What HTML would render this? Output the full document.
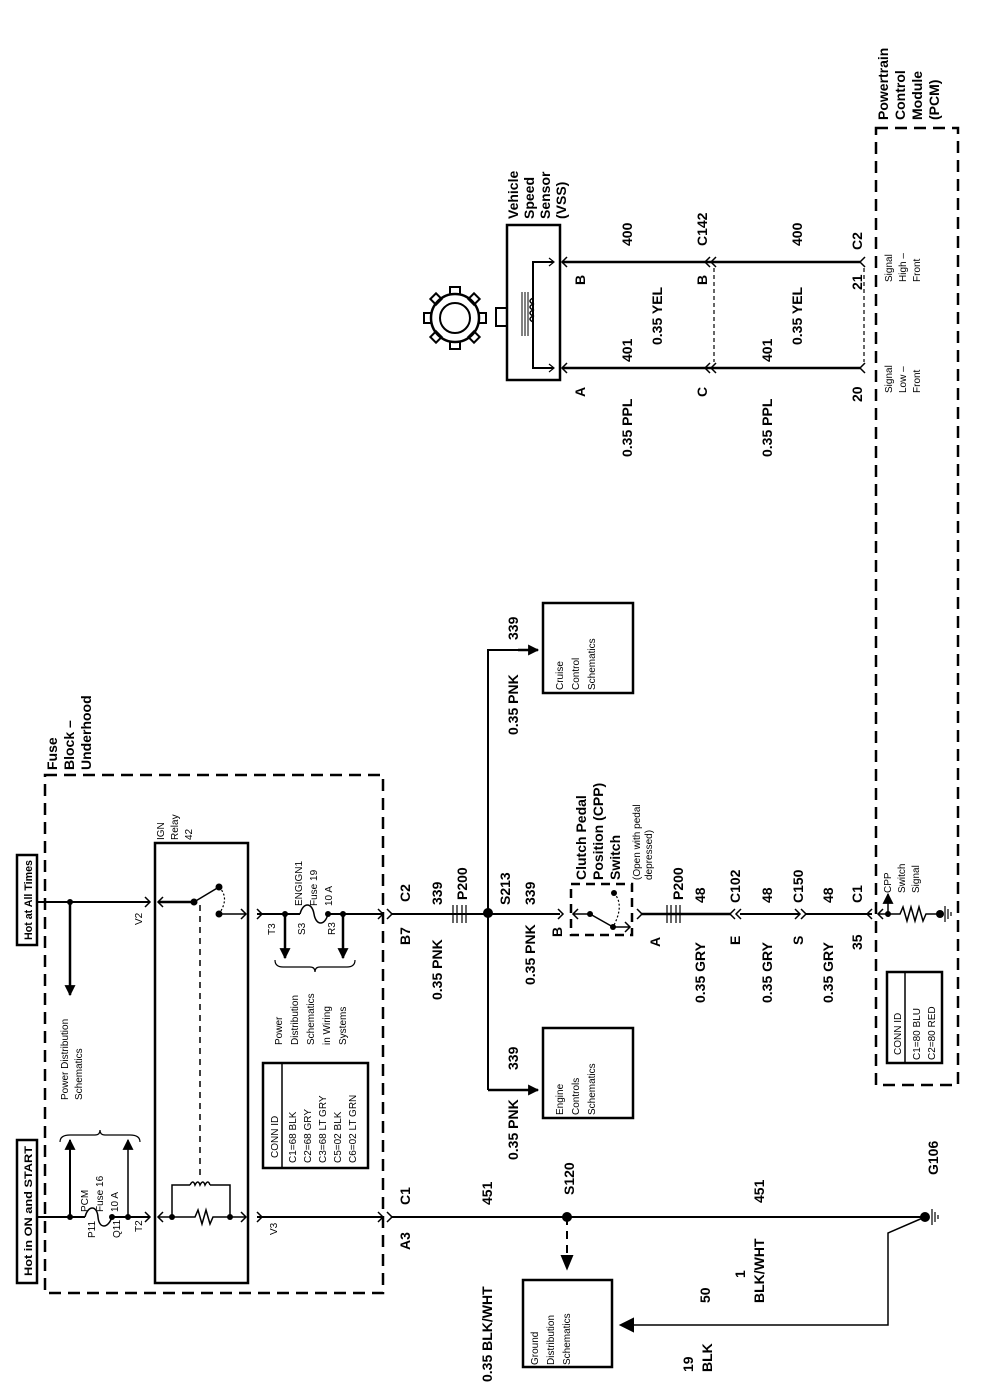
<!DOCTYPE html>
<html><head><meta charset="utf-8"><style>
html,body{margin:0;padding:0;background:#fff}
svg{display:block}
text{font-family:"Liberation Sans",Arial,sans-serif;fill:#000}
.b{font-size:14px;font-weight:bold}
.m{font-size:11px;font-weight:bold}
.s{font-size:10px}
</style></head><body>
<svg width="992" height="1400" viewBox="0 0 992 1400" xmlns="http://www.w3.org/2000/svg">
<defs>
<marker id="ar" viewBox="0 0 10 10" refX="9" refY="5" markerWidth="14" markerHeight="11" markerUnits="userSpaceOnUse" orient="auto"><path d="M0,0 L10,5 L0,10 z" fill="#000"/></marker>
</defs>
<g fill="none" stroke="#000" stroke-width="2">
<rect x="45" y="775" width="338" height="518" stroke-dasharray="12,7" stroke-width="2.5"/>
<rect x="17" y="1140" width="20" height="143" stroke-width="2.5"/>
<rect x="17" y="855" width="20" height="90" stroke-width="2.5"/>
<path d="M37,902 H150"/>
<path d="M70,902 V995" marker-end="url(#ar)" stroke-width="2.5"/>
<path d="M145,897 L150,902 L145,907" stroke-width="1.5"/>
<path d="M37,1217 H85 M112,1217 H150"/>
<path d="M85,1217 C88,1205 97,1205 98,1217 C99,1229 108,1229 112,1217" stroke-width="1.5"/>
<path d="M70,1217 V1140" marker-end="url(#ar)" stroke-width="2"/>
<path d="M128,1217 V1140" marker-end="url(#ar)" stroke-width="1.5"/>
<path d="M145,1212 L150,1217 L145,1222" stroke-width="1.5"/>
<path d="M60,1142 Q60,1135 70,1135 H95 Q100,1135 100,1130 Q100,1135 105,1135 H130 Q140,1135 140,1142" stroke-width="1.2"/>
<rect x="155" y="843" width="93" height="440" stroke-width="2.5"/>
<path d="M158,902 H194" stroke-width="2.5"/>
<path d="M163,897 L158,902 L163,907" stroke-width="1.5"/>
<path d="M194,902 L219,887" stroke-width="1.5"/>
<path d="M219,887 Q230,898 219,914" stroke-dasharray="2,2" stroke-width="1.2"/>
<path d="M219,914 H246" stroke-width="1.5"/>
<path d="M241,909 L246,914 L241,919" stroke-width="1.5"/>
<path d="M200,905 V1180" stroke-dasharray="6,5" stroke-width="1.5"/>
<path d="M158,1217 H195 L198,1210 L202,1224 L206,1210 L210,1224 L213,1217 H246" stroke-width="1.5"/>
<path d="M163,1212 L158,1217 L163,1222 M241,1212 L246,1217 L241,1222" stroke-width="1.5"/>
<path d="M172,1217 V1185 H190 M210,1185 H230 V1217" stroke-width="1.5"/>
<path d="M190,1185 q3,-6 5,0 q3,-6 5,0 q3,-6 5,0 q3,-6 5,0" stroke-width="1.5"/>
<path d="M257,914 H300 M328,914 H383"/>
<path d="M300,914 C303,902 312,902 314,914 C316,926 325,926 328,914" stroke-width="1.5"/>
<path d="M257,909 L262,914 L257,919 M378,909 L383,914 L378,919" stroke-width="1.5"/>
<path d="M285,914 V958" marker-end="url(#ar)" stroke-width="2.5"/>
<path d="M343,914 V958" marker-end="url(#ar)" stroke-width="2.5"/>
<path d="M275,960 Q275,967 283,967 H310 Q315,967 315,972 Q315,967 320,967 H347 Q355,967 355,960" stroke-width="1.2"/>
<path d="M257,1217 H383"/>
<path d="M257,1212 L262,1217 L257,1222 M378,1212 L383,1217 L378,1222" stroke-width="1.5"/>
<rect x="263" y="1063" width="105" height="105" stroke-width="2.5"/>
<path d="M282,1063 V1168" stroke-width="1.5"/>
<path d="M387,909 L392,914 L387,919 M387,1212 L392,1217 L387,1222" stroke-width="1.5"/>
<path d="M392,914 H560"/>
<path d="M453,905 V923 M457,905 V923 M462,905 V923 M466,905 V923" stroke-width="1.2"/>
<path d="M392,1217 H925"/>
<path d="M488,1090 V650 H533" stroke-width="2"/>
<path d="M518,650 H538" marker-end="url(#ar)" stroke-width="2.5"/>
<path d="M488,1090 H538" marker-end="url(#ar)" stroke-width="2.5"/>
<rect x="543" y="603" width="90" height="90" stroke-width="2.5"/>
<rect x="543" y="1028" width="90" height="90" stroke-width="2.5"/>
<path d="M558,909 L563,914 L558,919" stroke-width="1.5"/>
<rect x="571" y="884" width="61" height="51" stroke-dasharray="9,6" stroke-width="2.5"/>
<path d="M573,914 H590 L613,927 M613,927 H630" stroke-width="1.5"/>
<path d="M578,909 L573,914 L578,919 M625,922 L630,927 L625,932" stroke-width="1.5"/>
<path d="M614,893 Q625,905 613,927" stroke-dasharray="2,2" stroke-width="1.2"/>
<path d="M637,909 L642,914 L637,919" stroke-width="1.5"/>
<path d="M642,914 H730" stroke-width="2.5"/>
<path d="M667,905 V923 M671,905 V923 M676,905 V923 M680,905 V923" stroke-width="1.2"/>
<path d="M740,914 H800" stroke-width="2"/>
<path d="M735,909 L730,914 L735,919 M741,909 L736,914 L741,919" stroke-width="1.5"/>
<path d="M795,909 L800,914 L795,919 M801,909 L806,914 L801,919" stroke-width="1.5"/>
<path d="M806,914 H872" stroke-width="2"/>
<path d="M872,909 L867,914 L872,919" stroke-width="1.5"/>
<path d="M876,128 H958 V1085 H876 Z" stroke-dasharray="12,7" stroke-width="2.5"/>
<path d="M883,909 L878,914 L883,919" stroke-width="1.5"/>
<path d="M878,914 H900 L903,907 L907,921 L911,907 L915,921 L919,907 L923,921 L926,914 H940" stroke-width="1.5"/>
<path d="M888,914 V894" marker-end="url(#ar)" stroke-width="1.5"/>
<path d="M945,906 V922 M948,909 V919 M951,912 V916" stroke-width="1.2"/>
<rect x="887" y="972" width="55" height="91" stroke-width="2.5"/>
<path d="M905,972 V1063" stroke-width="1.5"/>
<path d="M567,1217 V1258" stroke-dasharray="8,6" stroke-width="2"/>
<path d="M562,1256 L567,1268 L572,1256 z" fill="#000"/>
<rect x="523" y="1280" width="89" height="87" stroke-width="2.5"/>
<path d="M925,1217 L888,1233 V1325 H630" stroke-width="1.5"/>
<path d="M633,1319 L621,1325 L633,1331 z" fill="#000"/>
<path d="M932,1209 V1225 M935,1212 V1222 M938,1215 V1219" stroke-width="1.2"/>
<rect x="507" y="225" width="53" height="155" stroke-width="2.5"/>
<rect x="496" y="308" width="11" height="18" stroke-width="2"/>
<path d="M553,262 H533 V368 H553" stroke-width="2"/>
<path d="M549,258 L554,262 L549,266 M549,364 L554,368 L549,372" stroke-width="1.2"/>
<path d="M533,298 q-6,3 0,6 q-6,3 0,6 q-6,3 0,6 q-6,3 0,6" stroke-width="1.5"/>
<path d="M522,292 V336 M525,292 V336 M528,292 V336" stroke-width="1"/>
<circle cx="455" cy="318" r="24" stroke-width="2.5"/>
<circle cx="455" cy="318" r="15" stroke-width="2"/>
<g stroke-width="2">
<rect x="450" y="287" width="10" height="7"/><rect x="450" y="342" width="10" height="7"/>
<rect x="424" y="313" width="7" height="10"/><rect x="479" y="313" width="7" height="10"/>
<rect x="432" y="295" width="8" height="8" transform="rotate(45 436 299)"/>
<rect x="470" y="295" width="8" height="8" transform="rotate(45 474 299)"/>
<rect x="432" y="333" width="8" height="8" transform="rotate(45 436 337)"/>
<rect x="470" y="333" width="8" height="8" transform="rotate(45 474 337)"/>
</g>
<path d="M562,262 H860 M562,368 H860" stroke-width="2.5"/>
<path d="M567,257 L562,262 L567,267 M567,363 L562,368 L567,373" stroke-width="1.5"/>
<path d="M710,257 L705,262 L710,267 M716,257 L711,262 L716,267 M710,363 L705,368 L710,373 M716,363 L711,368 L716,373" stroke-width="1.5"/>
<path d="M714,268 V362" stroke-dasharray="4,3" stroke-width="1.2"/>
<path d="M865,257 L860,262 L865,267 M865,363 L860,368 L865,373" stroke-width="1.5"/>
<path d="M864,268 V362" stroke-dasharray="4,3" stroke-width="1.2"/>
</g>
<g fill="#000">
<circle cx="70" cy="902" r="3"/><circle cx="70" cy="1217" r="3"/><circle cx="112" cy="1217" r="3"/><circle cx="128" cy="1217" r="3"/>
<circle cx="194" cy="902" r="3.5"/><circle cx="219" cy="887" r="3.5"/><circle cx="219" cy="914" r="3.5"/>
<circle cx="172" cy="1217" r="3"/><circle cx="230" cy="1217" r="3"/>
<circle cx="285" cy="914" r="3"/><circle cx="328" cy="914" r="3"/><circle cx="343" cy="914" r="3"/>
<circle cx="488" cy="913" r="5"/><circle cx="567" cy="1217" r="5"/><circle cx="925" cy="1217" r="5"/>
<circle cx="590" cy="914" r="3"/><circle cx="613" cy="927" r="3"/><circle cx="614" cy="893" r="3"/>
<circle cx="888" cy="914" r="3"/><circle cx="940" cy="914" r="4"/>
</g>
<g>
<text class="m" transform="translate(32,1276) rotate(-90)" textLength="130" lengthAdjust="spacingAndGlyphs">Hot in ON and START</text>
<text class="m" transform="translate(32,940) rotate(-90)" textLength="80" lengthAdjust="spacingAndGlyphs">Hot at All Times</text>
<text class="b" transform="translate(57,770) rotate(-90)">Fuse<tspan x="0" dy="17">Block –</tspan><tspan x="0" dy="17">Underhood</tspan></text>
<text class="s" transform="translate(68,1100) rotate(-90)">Power Distribution<tspan x="0" dy="14">Schematics</tspan></text>
<text class="s" transform="translate(88,1212) rotate(-90)">PCM<tspan x="0" dy="15">Fuse 16</tspan><tspan x="0" dy="15">10 A</tspan></text>
<text class="s" transform="translate(95,1238) rotate(-90)">P11</text>
<text class="s" transform="translate(120,1238) rotate(-90)">Q11</text>
<text class="s" transform="translate(142,1232) rotate(-90)">T2</text>
<text class="s" transform="translate(142,925) rotate(-90)">V2</text>
<text class="s" transform="translate(164,840) rotate(-90)">IGN<tspan x="0" dy="14">Relay</tspan><tspan x="0" dy="14">42</tspan></text>
<text class="s" transform="translate(302,906) rotate(-90)">ENGIGN1<tspan x="0" dy="15">Fuse 19</tspan><tspan x="0" dy="15">10 A</tspan></text>
<text class="s" transform="translate(275,935) rotate(-90)">T3</text>
<text class="s" transform="translate(305,935) rotate(-90)">S3</text>
<text class="s" transform="translate(335,935) rotate(-90)">R3</text>
<text class="s" transform="translate(282,1045) rotate(-90)">Power<tspan x="0" dy="16">Distribution</tspan><tspan x="0" dy="16">Schematics</tspan><tspan x="0" dy="16">in Wiring</tspan><tspan x="0" dy="16">Systems</tspan></text>
<text class="s" transform="translate(277,1235) rotate(-90)">V3</text>
<text class="s" transform="translate(278,1158) rotate(-90)">CONN ID</text>
<text class="s" transform="translate(296,1163) rotate(-90)">C1=68 BLK<tspan x="0" dy="15">C2=68 GRY</tspan><tspan x="0" dy="15">C3=68 LT GRY</tspan><tspan x="0" dy="15">C5=02 BLK</tspan><tspan x="0" dy="15">C6=02 LT GRN</tspan></text>
<text class="b" transform="translate(410,902) rotate(-90)">C2</text>
<text class="b" transform="translate(410,945) rotate(-90)">B7</text>
<text class="b" transform="translate(410,1205) rotate(-90)">C1</text>
<text class="b" transform="translate(410,1250) rotate(-90)">A3</text>
<text class="b" transform="translate(442,1000) rotate(-90)">0.35 PNK</text>
<text class="b" transform="translate(442,905) rotate(-90)">339</text>
<text class="b" transform="translate(467,900) rotate(-90)">P200</text>
<text class="b" transform="translate(510,905) rotate(-90)">S213</text>
<text class="b" transform="translate(535,905) rotate(-90)">339</text>
<text class="b" transform="translate(535,985) rotate(-90)">0.35 PNK</text>
<text class="b" transform="translate(518,640) rotate(-90)">339</text>
<text class="b" transform="translate(518,735) rotate(-90)">0.35 PNK</text>
<text class="b" transform="translate(518,1070) rotate(-90)">339</text>
<text class="b" transform="translate(518,1160) rotate(-90)">0.35 PNK</text>
<text class="s" transform="translate(563,690) rotate(-90)">Cruise<tspan x="0" dy="16">Control</tspan><tspan x="0" dy="16">Schematics</tspan></text>
<text class="s" transform="translate(563,1115) rotate(-90)">Engine<tspan x="0" dy="16">Controls</tspan><tspan x="0" dy="16">Schematics</tspan></text>
<text class="b" transform="translate(562,937) rotate(-90)">B</text>
<text class="b" transform="translate(586,880) rotate(-90)">Clutch Pedal<tspan x="0" dy="17">Position (CPP)</tspan><tspan x="0" dy="17">Switch</tspan></text>
<text class="s" transform="translate(640,880) rotate(-90)">(Open with pedal<tspan x="0" dy="12">depressed)</tspan></text>
<text class="b" transform="translate(660,947) rotate(-90)">A</text>
<text class="b" transform="translate(683,900) rotate(-90)">P200</text>
<text class="b" transform="translate(705,903) rotate(-90)">48</text>
<text class="b" transform="translate(705,1003) rotate(-90)">0.35 GRY</text>
<text class="b" transform="translate(740,903) rotate(-90)">C102</text>
<text class="b" transform="translate(740,945) rotate(-90)">E</text>
<text class="b" transform="translate(772,903) rotate(-90)">48</text>
<text class="b" transform="translate(772,1003) rotate(-90)">0.35 GRY</text>
<text class="b" transform="translate(803,903) rotate(-90)">C150</text>
<text class="b" transform="translate(803,945) rotate(-90)">S</text>
<text class="b" transform="translate(833,903) rotate(-90)">48</text>
<text class="b" transform="translate(833,1003) rotate(-90)">0.35 GRY</text>
<text class="b" transform="translate(862,903) rotate(-90)">C1</text>
<text class="b" transform="translate(862,950) rotate(-90)">35</text>
<text class="s" transform="translate(891,893) rotate(-90)">CPP<tspan x="0" dy="14">Switch</tspan><tspan x="0" dy="14">Signal</tspan></text>
<text class="s" transform="translate(901,1055) rotate(-90)">CONN ID</text>
<text class="s" transform="translate(920,1060) rotate(-90)">C1=80 BLU<tspan x="0" dy="15">C2=80 RED</tspan></text>
<text class="b" transform="translate(888,120) rotate(-90)">Powertrain<tspan x="0" dy="17">Control</tspan><tspan x="0" dy="17">Module</tspan><tspan x="0" dy="17">(PCM)</tspan></text>
<text class="s" transform="translate(892,282) rotate(-90)">Signal<tspan x="0" dy="14">High –</tspan><tspan x="0" dy="14">Front</tspan></text>
<text class="s" transform="translate(892,393) rotate(-90)">Signal<tspan x="0" dy="14">Low –</tspan><tspan x="0" dy="14">Front</tspan></text>
<text class="b" transform="translate(518,219) rotate(-90)">Vehicle<tspan x="0" dy="16">Speed</tspan><tspan x="0" dy="16">Sensor</tspan><tspan x="0" dy="16">(VSS)</tspan></text>
<text class="b" transform="translate(585,285) rotate(-90)">B</text>
<text class="b" transform="translate(585,397) rotate(-90)">A</text>
<text class="b" transform="translate(632,246) rotate(-90)">400</text>
<text class="b" transform="translate(632,362) rotate(-90)">401</text>
<text class="b" transform="translate(632,457) rotate(-90)">0.35 PPL</text>
<text class="b" transform="translate(662,345) rotate(-90)">0.35 YEL</text>
<text class="b" transform="translate(707,246) rotate(-90)">C142</text>
<text class="b" transform="translate(707,285) rotate(-90)">B</text>
<text class="b" transform="translate(707,397) rotate(-90)">C</text>
<text class="b" transform="translate(772,362) rotate(-90)">401</text>
<text class="b" transform="translate(772,457) rotate(-90)">0.35 PPL</text>
<text class="b" transform="translate(802,246) rotate(-90)">400</text>
<text class="b" transform="translate(802,345) rotate(-90)">0.35 YEL</text>
<text class="b" transform="translate(862,250) rotate(-90)">C2</text>
<text class="b" transform="translate(862,290) rotate(-90)">21</text>
<text class="b" transform="translate(862,402) rotate(-90)">20</text>
<text class="b" transform="translate(492,1205) rotate(-90)">451</text>
<text class="b" transform="translate(492,1382) rotate(-90)">0.35 BLK/WHT</text>
<text class="b" transform="translate(574,1195) rotate(-90)">S120</text>
<text class="s" transform="translate(538,1365) rotate(-90)">Ground<tspan x="0" dy="16">Distribution</tspan><tspan x="0" dy="16">Schematics</tspan></text>
<text class="b" transform="translate(764,1203) rotate(-90)">451</text>
<text class="b" transform="translate(764,1303) rotate(-90)">BLK/WHT</text>
<text class="b" transform="translate(745,1278) rotate(-90)">1</text>
<text class="b" transform="translate(710,1303) rotate(-90)">50</text>
<text class="b" transform="translate(712,1372) rotate(-90)">BLK</text>
<text class="b" transform="translate(693,1372) rotate(-90)">19</text>
<text class="b" transform="translate(938,1175) rotate(-90)">G106</text>
</g>
</svg>
</body></html>
